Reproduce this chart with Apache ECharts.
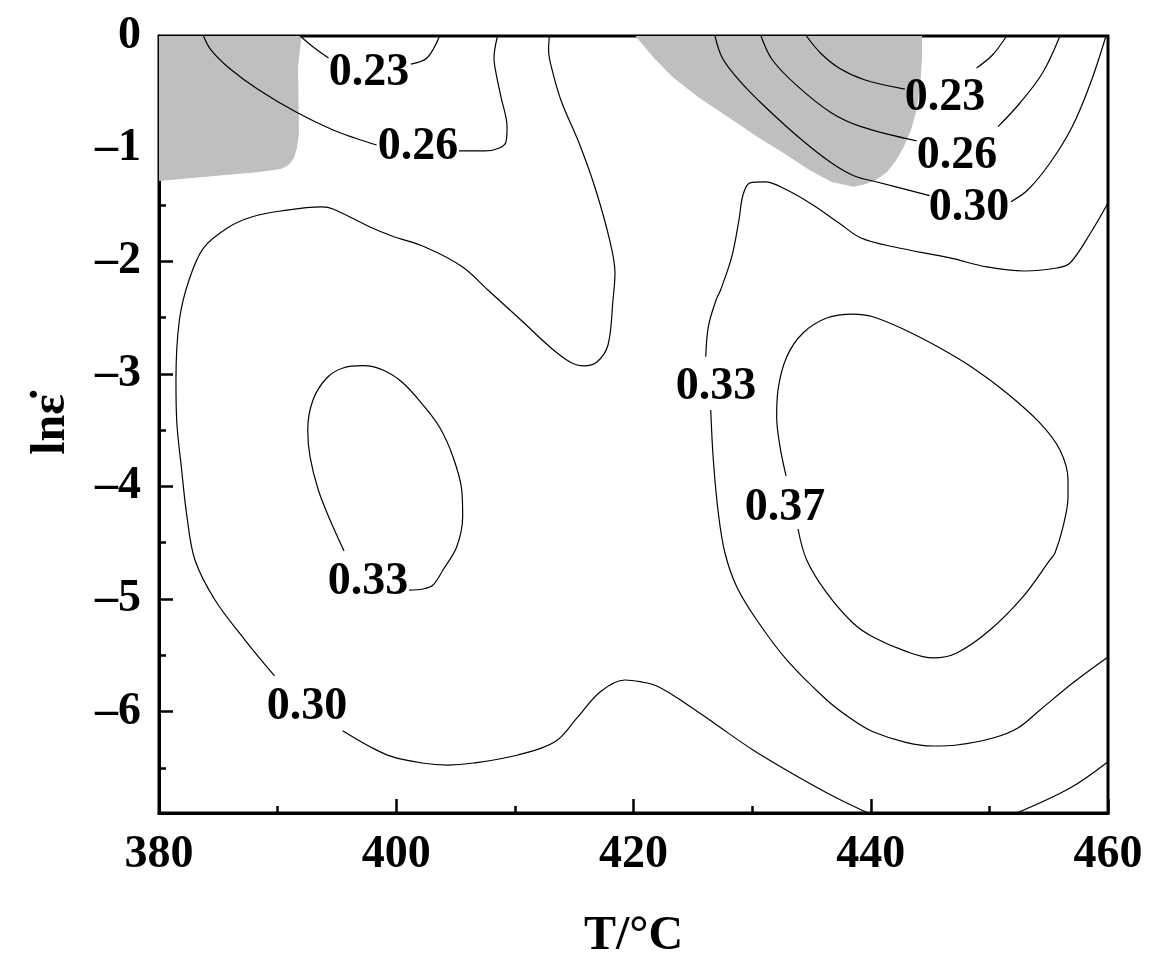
<!DOCTYPE html>
<html>
<head>
<meta charset="utf-8">
<script src="https://cdn.jsdelivr.net/npm/echarts@6/dist/echarts.min.js"></script>
<style>
html, body { margin: 0; padding: 0; background: #fff; }
#main { width: 1160px; height: 968px; }
</style>
</head>
<body>
<div id="main"></div>
<script>
// values: [T, ln strain rate]
var yMajor = [0, -1, -2, -3, -4, -5, -6];
var yMinor = [-0.5, -1.5, -2.5, -3.5, -4.5, -5.5, -6.5];

var grayLeft = [[380,0],[392.01,0],[391.72,-0.275],[391.80,-0.861],[391.63,-0.995],[391.38,-1.083],[390.93,-1.146],[390.28,-1.181],[388.43,-1.208],[380,-1.288]];
var grayRight = [[420.17,0],[421.73,-0.195],[423.29,-0.364],[425.44,-0.542],[427.97,-0.719],[430.46,-0.897],[432.65,-1.039],[434.83,-1.190],[436.70,-1.296],[438.57,-1.338],[439.52,-1.317],[440.44,-1.279],[441.37,-1.208],[442.15,-1.101],[442.78,-0.986],[443.39,-0.835],[443.87,-0.657],[444.19,-0.417],[444.32,-0.186],[444.32,0]];

var c23a = [[391.89,0],[393.11,-0.107],[394.29,-0.195]];
var c23b = [[401.22,-0.249],[402.59,-0.195],[403.65,0]];
var c26a = [[383.75,0],[384.38,-0.124],[385.90,-0.284],[388.43,-0.480],[391.55,-0.675],[394.67,-0.835],[396.52,-0.906],[398.34,-0.968]];
var c26b = [[405.29,-1.021],[407.48,-1.021],[408.70,-0.995],[409.25,-0.941],[409.34,-0.808],[408.83,-0.542],[408.41,-0.329],[408.24,-0.195],[408.54,0]];
var c30a = [[412.91,0],[412.84,-0.124],[413.21,-0.329],[413.97,-0.595],[415.41,-0.950],[416.74,-1.341],[417.99,-1.812],[418.44,-2.105],[418.27,-2.344],[417.85,-2.744],[416.92,-2.895],[415.83,-2.930],[414.65,-2.895],[412.96,-2.762],[410.69,-2.540],[407.73,-2.256],[405.59,-2.051],[402.42,-1.874],[399.64,-1.776],[397.79,-1.696],[394.67,-1.536],[393.74,-1.518],[390.28,-1.554],[387.81,-1.607],[385.90,-1.696],[383.75,-1.883],[382.53,-2.167],[381.72,-2.522],[381.43,-3.055],[381.49,-3.410],[381.91,-3.854],[382.36,-4.271],[383.03,-4.653],[384.72,-5.008],[387.25,-5.364],[389.74,-5.683]];
var c30b = [[395.48,-6.169],[397.79,-6.311],[399.64,-6.400],[402.17,-6.456],[404.33,-6.474],[406.52,-6.456],[410.26,-6.385],[413.38,-6.267],[415.24,-6.056],[417.18,-5.825],[419.28,-5.719],[420.55,-5.734],[421.96,-5.772],[424.17,-5.911],[427.01,-6.118],[430.07,-6.340],[434.04,-6.589],[437.13,-6.767],[439.77,-6.9]];
var d30a = [[426.87,0],[427.49,-0.195],[428.89,-0.391],[431.09,-0.628],[434.20,-0.924],[436.70,-1.128],[438.57,-1.241],[440.44,-1.294],[444.96,-1.418]];
var d30b = [[451.82,-1.471],[453.23,-1.368],[455.11,-1.128],[456.97,-0.808],[458.53,-0.417],[459.83,0]];
var d26a = [[430.75,0],[431.71,-0.213],[433.87,-0.450],[436.70,-0.684],[439.18,-0.805],[443.87,-0.932]];
var d26b = [[450.73,-0.805],[452.58,-0.595],[454.48,-0.329],[455.95,0]];
var d23a = [[434.58,0],[435.76,-0.151],[437.32,-0.284],[439.52,-0.391],[442.87,-0.471]];
var d23b = [[448.92,-0.284],[450.26,-0.169],[451.45,0]];
var g33a = [[460,-1.483],[458.53,-1.749],[456.80,-2.016],[455.70,-2.060],[452.92,-2.087],[449.80,-2.051],[446.68,-1.971],[442.00,-1.874],[439.18,-1.794],[437.32,-1.661],[435.13,-1.501],[432.94,-1.368],[431.09,-1.296],[429.82,-1.305],[429.23,-1.412],[428.89,-1.634],[428.28,-1.962],[427.34,-2.256],[426.96,-2.344],[426.31,-2.581],[426.09,-2.848]];
var g33b = [[426.51,-3.321],[426.73,-3.765],[427.15,-4.236],[427.71,-4.591],[428.70,-4.890],[430.39,-5.186],[432.92,-5.541],[436.29,-5.896],[438.50,-6.074],[440.19,-6.178],[443.03,-6.275],[445.25,-6.305],[447.25,-6.296],[450.31,-6.234],[452.41,-6.145],[454.27,-5.985],[457.05,-5.743],[460,-5.514]];
var h30 = [[452.30,-6.9],[456.80,-6.678],[460,-6.444]];
var i37 = [[432.86,-3.907],[432.35,-3.647],[432.07,-3.381],[432.18,-3.144],[432.92,-2.848],[434.29,-2.637],[436.29,-2.504],[438.50,-2.469],[440.19,-2.493],[443.03,-2.617],[445.84,-2.771],[448.62,-2.948],[451.46,-3.170],[454.27,-3.437],[455.95,-3.676],[456.63,-3.943],[456.63,-4.091],[456.21,-4.357],[455.53,-4.591],[455.11,-4.653],[452.84,-4.979],[450.05,-5.275],[447.25,-5.479],[445.25,-5.523],[443.03,-5.467],[440.19,-5.337],[438.50,-5.213],[436.29,-4.946],[434.60,-4.653],[433.87,-4.378]];
var j33 = [[395.60,-4.573],[394.42,-4.298],[393.43,-4.032],[392.73,-3.736],[392.54,-3.499],[392.98,-3.232],[394.14,-3.037],[395.51,-2.948],[397.20,-2.928],[398.88,-2.966],[400.57,-3.081],[402.26,-3.277],[403.69,-3.481],[404.78,-3.736],[405.52,-4.032],[405.60,-4.268],[405.10,-4.535],[403.94,-4.742],[403.10,-4.875],[402.26,-4.911],[401.08,-4.920]];

var contourLabels = [
    [397.70, -0.311, '0.23'],
    [401.83, -0.968, '0.26'],
    [446.26, -0.533, '0.23'],
    [447.27, -1.048, '0.26'],
    [448.28, -1.510, '0.30'],
    [426.96, -3.099, '0.33'],
    [432.77, -4.174, '0.37'],
    [397.62, -4.831, '0.33'],
    [392.48, -5.941, '0.30']
];

var contours = [c23a, c23b, c26a, c26b, c30a, c30b, d30a, d30b, d26a, d26b, d23a, d23b, g33a, g33b, h30, i37, j33];
var grayPatches = [grayLeft, grayRight];

var FONT = '"Liberation Serif", "Times New Roman", serif';
var myChart = echarts.init(document.getElementById('main'));

var series = [{
    type: 'custom',
    silent: true,
    clip: true,
    z: 1,
    data: [[0], [1]],
    renderItem: function (params, api) {
        var points = grayPatches[params.dataIndex].map(function (p) { return api.coord(p); });
        return { type: 'polygon', shape: { points: points }, style: { fill: '#bfbfbf' } };
    }
}];

contours.forEach(function (line) {
    series.push({
        type: 'line',
        data: line,
        smooth: 0.35,
        showSymbol: false,
        silent: true,
        z: 2,
        lineStyle: { color: '#000', width: 1.2 }
    });
});

series.push({
    type: 'scatter',
    data: contourLabels,
    symbolSize: 0,
    silent: true,
    z: 3,
    itemStyle: { opacity: 1 },
    label: {
        show: true,
        position: 'inside',
        offset: [0, 2],
        opacity: 1,
        formatter: function (p) { return p.value[2]; },
        fontFamily: FONT,
        fontWeight: 'bold',
        fontSize: 46,
        color: '#000'
    }
});

var option = {
    animation: false,
    backgroundColor: '#fff',
    grid: { left: 159, right: 52, top: 36, bottom: 155, show: true, borderColor: '#000', borderWidth: 3, backgroundColor: 'transparent' },
    xAxis: {
        type: 'value',
        min: 380,
        max: 460,
        interval: 20,
        name: 'T/°C',
        nameLocation: 'middle',
        nameGap: 100,
        nameTextStyle: { fontFamily: FONT, fontWeight: 'bold', fontSize: 48, color: '#000' },
        splitLine: { show: false },
        axisLine: { show: true, onZero: false, lineStyle: { color: '#000', width: 3 } },
        axisTick: { inside: true, length: 14, lineStyle: { color: '#000', width: 2.5 } },
        minorTick: { show: true, splitNumber: 2, length: 7, lineStyle: { color: '#000', width: 2.5 } },
        axisLabel: { margin: 19, fontFamily: FONT, fontWeight: 'bold', fontSize: 46, color: '#000' }
    },
    yAxis: [{
        type: 'value',
        min: -6.9,
        max: 0,
        name: 'ln\u03b5\u0307',
        nameLocation: 'middle',
        nameGap: 83,
        nameRotate: 90,
        nameTextStyle: { fontFamily: FONT, fontWeight: 'bold', fontSize: 48, color: '#000' },
        splitLine: { show: false },
        axisLine: { show: true, onZero: false, lineStyle: { color: '#000', width: 3 } },
        axisTick: { inside: true, length: 14, customValues: yMajor, lineStyle: { color: '#000', width: 2.5 } },
        axisLabel: {
            margin: 18,
            customValues: yMajor,
            fontFamily: FONT,
            fontWeight: 'bold',
            fontSize: 46,
            color: '#000',
            formatter: function (v) { return v < 0 ? '\u2013' + Math.abs(v) : String(v); }
        }
    }, {
        // second axis only carries the short half-unit ticks
        type: 'value',
        position: 'left',
        min: -6.9,
        max: 0,
        splitLine: { show: false },
        axisLine: { show: false, onZero: false },
        axisLabel: { show: false },
        axisTick: { show: true, inside: true, length: 7, customValues: yMinor, lineStyle: { color: '#000', width: 2.5 } }
    }],
    series: series
};
myChart.setOption(option);
</script>
</body>
</html>
